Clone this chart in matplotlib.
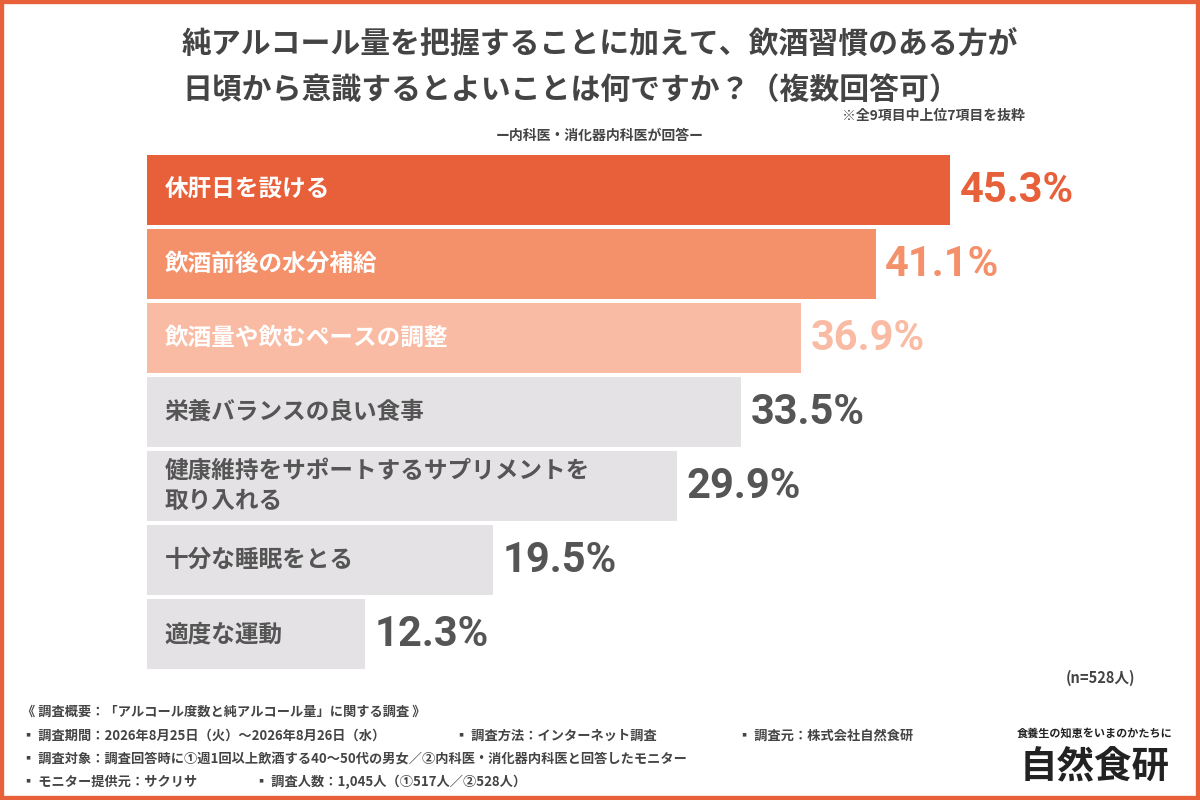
import matplotlib.pyplot as plt
from matplotlib.patches import Rectangle

plt.rcParams['font.family'] = ['Noto Sans CJK JP', 'DejaVu Sans']

# Data
labels = ["休肝日を設ける", "飲酒前後の水分補給", "飲酒量や飲むペースの調整",
          "栄養バランスの良い食事", "健康維持をサポートするサプリメントを\n取り入れる",
          "十分な睡眠をとる", "適度な運動"]
values = [45.3, 41.1, 36.9, 33.5, 29.9, 19.5, 12.3]
bar_colors = ["#E8603A", "#F4906A", "#F9BBA3", "#E4E2E4", "#E4E2E4", "#E4E2E4", "#E4E2E4"]
label_colors = ["white", "white", "white", "#555555", "#555555", "#555555", "#555555"]
value_colors = ["#E8603A", "#F4906A", "#F9BBA3", "#555555", "#555555", "#555555", "#555555"]

W, H = 1200, 800
fig = plt.figure(figsize=(12, 8), dpi=100)
fig.patch.set_facecolor("white")

# orange frame
fig.add_artist(Rectangle((0, 0), 1, 1, transform=fig.transFigure, fill=False,
                         edgecolor="#E8603A", linewidth=6))

def fx(px):
    return px / W

def fy(py):
    return 1 - py / H

# Title
fig.text(fx(182), fy(45), "純アルコール量を把握することに加えて、飲酒習慣のある方が",
         ha="left", va="center", fontsize=21.5, fontweight="bold", color="#444444")
fig.text(fx(182), fy(90), "日頃から意識するとよいことは何ですか？（複数回答可）",
         ha="left", va="center", fontsize=21.5, fontweight="bold", color="#444444")
fig.text(fx(1025), fy(116), "※全9項目中上位7項目を抜粋", ha="right", va="center",
         fontsize=10, fontweight="bold", color="#444444")
fig.text(fx(600), fy(136), "ー内科医・消化器内科医が回答ー", ha="center", va="center",
         fontsize=10, fontweight="bold", color="#444444")

# Bars
px_per_unit = (950 - 147) / 45.3
ax = fig.add_axes([fx(147), fy(671), fx(60 * px_per_unit), (671 - 153) / H])
y = list(range(len(values)))
ax.barh(y, values, height=0.95, color=bar_colors)
ax.set_xlim(0, 60)
ax.set_ylim(len(values) - 0.5, -0.5)
ax.axis("off")
for i, (lab, v) in enumerate(zip(labels, values)):
    ax.text(1.0, i, lab, ha="left", va="center", fontsize=17, fontweight="bold",
            color=label_colors[i], linespacing=1.3)
    ax.text(v + 0.55, i, f"{v}%", ha="left", va="center", fontsize=30,
            fontweight="bold", color=value_colors[i], family=["Roboto", "DejaVu Sans"])

fig.text(fx(1135), fy(678), "(n=528人)", ha="right", va="center", fontsize=10.5,
         fontweight="bold", color="#444444")

# Footer
foot = dict(ha="left", va="center", fontsize=9.5, fontweight="bold", color="#444444")
fig.text(fx(22), fy(712), "《 調査概要：「アルコール度数と純アルコール量」に関する調査 》", **foot)
fig.text(fx(22), fy(736), "▪ 調査期間：2026年8月25日（火）〜2026年8月26日（水）", **foot)
fig.text(fx(455), fy(736), "▪ 調査方法：インターネット調査", **foot)
fig.text(fx(738), fy(736), "▪ 調査元：株式会社自然食研", **foot)
fig.text(fx(22), fy(759), "▪ 調査対象：調査回答時に①週1回以上飲酒する40〜50代の男女／②内科医・消化器内科医と回答したモニター", **foot)
fig.text(fx(22), fy(782), "▪ モニター提供元：サクリサ", **foot)
fig.text(fx(255), fy(782), "▪ 調査人数：1,045人（①517人／②528人）", **foot)

# Logo
fig.text(fx(1095), fy(733), "食養生の知恵をいまのかたちに", ha="center", va="center",
         fontsize=8, fontweight="bold", color="#222222")
fig.text(fx(1095), fy(767), "自然食研", ha="center", va="center",
         fontsize=27, fontweight="bold", color="#222222")

fig.savefig("out.png", dpi=100)
